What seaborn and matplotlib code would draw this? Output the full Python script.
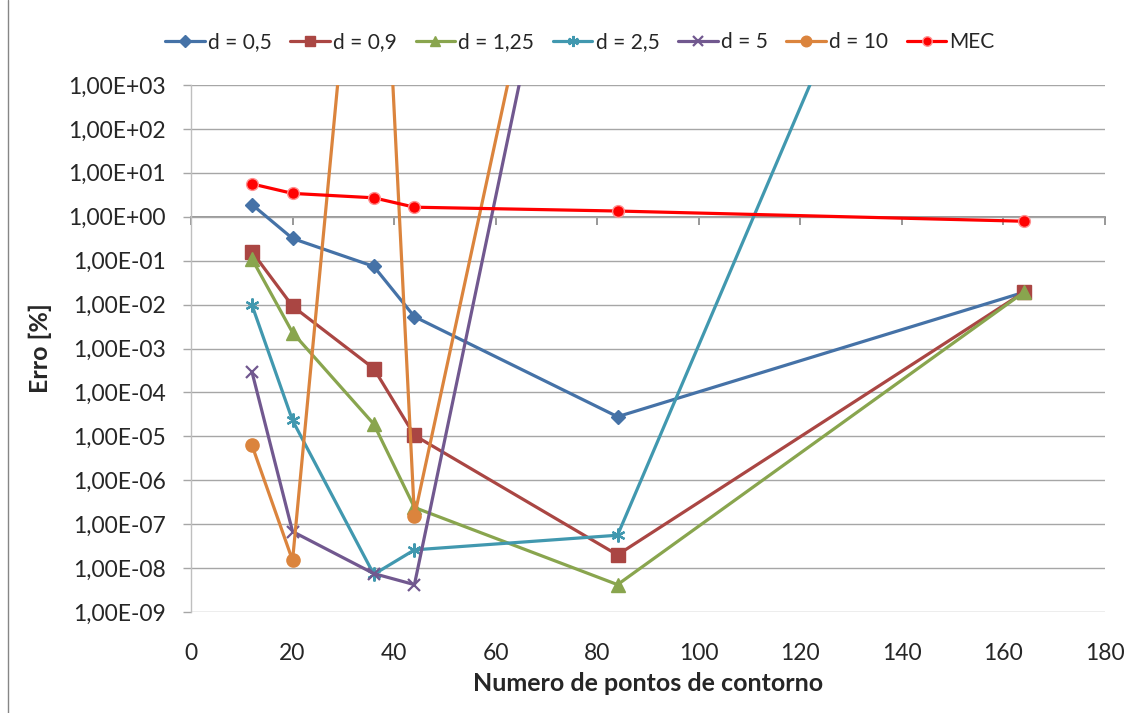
import matplotlib
matplotlib.use("Agg")
import matplotlib.pyplot as plt
import matplotlib.ticker as mticker
from matplotlib.lines import Line2D
import seaborn as sns
import pandas as pd

# ---- data ----
pontos = [12, 20, 36, 44, 84, 164]
erro_d05 = [1.9, 0.32, 0.074, 0.0053, 2.8e-5, 0.019]
erro_d09 = [0.16, 0.0092, 3.5e-4, 1.05e-5, 2.0e-8, 0.019]
erro_d125 = [0.11, 2.3e-3, 1.9e-5, 2.4e-7, 4.2e-9, 0.019]
erro_d25 = [9.8e-3, 2.3e-5, 7.2e-9, 2.6e-8, 5.6e-8, 2.5e14]
erro_d5 = [2.95e-4, 6.8e-8, 7.5e-9, 4.2e-9, 5e13, 1e14]
erro_d10 = [6.3e-6, 1.5e-8, 5e11, 1.5e-7, 4e14, 1e14]
erro_mec = [5.6, 3.4, 2.7, 1.65, 1.35, 0.79]

labels = ["d = 0,5", "d = 0,9", "d = 1,25", "d = 2,5", "d = 5", "d = 10", "MEC"]
x_ticks = [0, 20, 40, 60, 80, 100, 120, 140, 160, 180]
y_ticks = [1e-9, 1e-8, 1e-7, 1e-6, 1e-5, 1e-4, 1e-3, 1e-2, 1e-1, 1e0, 1e1, 1e2, 1e3]

series = [erro_d05, erro_d09, erro_d125, erro_d25, erro_d5, erro_d10, erro_mec]
colors = ["#4572A7", "#AA4643", "#89A54E", "#4198AF", "#71588F", "#DB843D", "#FF0000"]
markers = ["D", "s", "^", (6, 2, 0), "x", "o", "o"]
msizes = [7.5, 9.5, 9.5, 10, 9, 9.5, 8.5]
medge = [None, None, None, None, None, None, "#FF9090"]

sns.set_style("white")
plt.rcParams["font.family"] = ["Lato", "DejaVu Sans"]

fig = plt.figure(figsize=(11.3, 7.13), dpi=100)
ax = fig.add_axes([191 / 1130, 1 - 612 / 713, (1105 - 191) / 1130, (612 - 85) / 713])

handles = []
for lab, ys, c, m, ms, me in zip(labels, series, colors, markers, msizes, medge):
    df = pd.DataFrame({"x": pontos, "y": ys})
    mec = me if me else c
    mew = 1.6 if m in ("x", (6, 2, 0)) else 1.0
    sns.lineplot(data=df, x="x", y="y", ax=ax, color=c, marker=m, markersize=ms,
                 markeredgecolor=mec, markeredgewidth=mew, lw=2.3, legend=False,
                 zorder=3, clip_on=True)
    handles.append(Line2D([], [], color=c, marker=m, markersize=ms * 0.8,
                          markeredgecolor=mec, markeredgewidth=mew, lw=2.3, label=lab))

ax.set_yscale("log")
ax.set_xlim(0, 180)
ax.set_ylim(1e-9, 1e3)
ax.set_xticks(x_ticks)
ax.set_yticks(y_ticks)
ax.yaxis.set_minor_locator(mticker.NullLocator())
ax.yaxis.set_major_formatter(mticker.FuncFormatter(lambda v, p: f"{v:.2E}".replace(".", ",")))

ax.grid(axis="y", color="#A6A6A6", lw=1.0)
ax.grid(axis="x", visible=False)
for s in ["top", "right", "bottom"]:
    ax.spines[s].set_visible(False)
ax.spines["left"].set_color("#BFBFBF")
ax.spines["left"].set_linewidth(1.0)

ax.tick_params(axis="y", direction="out", length=6, width=1, color="#A6A6A6",
               labelsize=16.5, pad=12, left=True)
ax.tick_params(axis="x", length=0, labelsize=16.5, pad=22)

# horizontal axis crossing at 1,00E+00
sec = ax.secondary_xaxis(0.75)
sec.set_xticks(x_ticks)
sec.xaxis.set_ticks_position("bottom")
sec.spines["bottom"].set_visible(True)
sec.spines["top"].set_visible(False)
sec.spines["bottom"].set_color("#868686")
sec.spines["bottom"].set_linewidth(1.2)
sec.tick_params(axis="x", direction="out", length=6, width=1.2, color="#868686",
                bottom=True, top=False, labelbottom=False, labeltop=False)

ax.set_xlabel("Numero de pontos de contorno", fontsize=18, fontweight="bold", labelpad=6)
ax.set_ylabel("Erro [%]", fontsize=18, fontweight="bold", labelpad=12)

fig.legend(handles=handles, loc="center", bbox_to_anchor=(580 / 1130, 1 - 42 / 713),
           ncol=7, frameon=False, fontsize=15, handlelength=1.9, handletextpad=0.15,
           columnspacing=0.9)

fig.add_artist(Line2D([8 / 1130, 8 / 1130], [0, 1], color="#868686", lw=1.0))

fig.savefig("out.png", dpi=100)
